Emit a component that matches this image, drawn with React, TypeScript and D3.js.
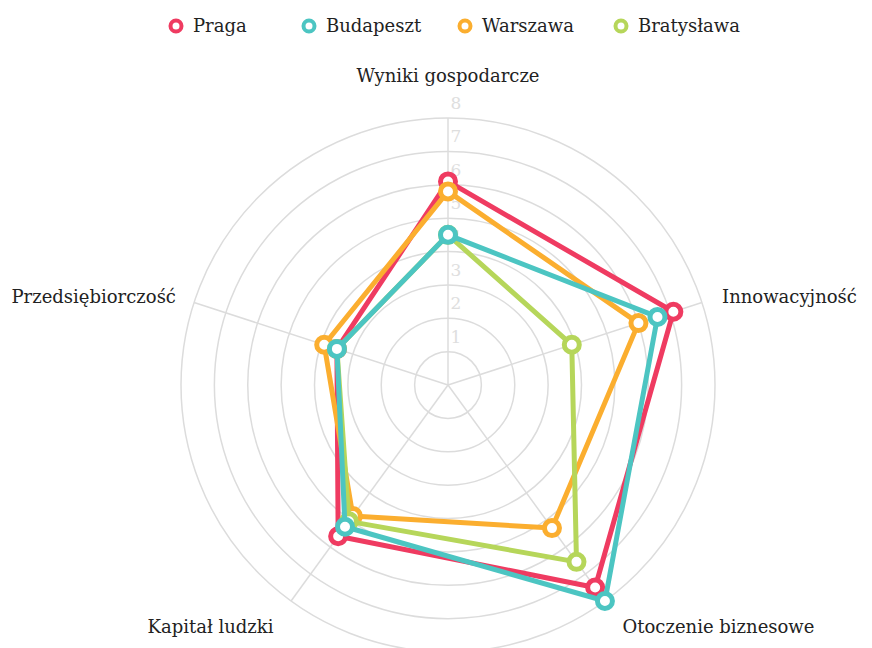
import * as d3 from "d3";

const axes = ["Wyniki gospodarcze", "Innowacyjność", "Otoczenie biznesowe", "Kapitał ludzki", "Przedsiębiorczość"];
const seriesNames = ["Praga", "Budapeszt", "Warszawa", "Bratysława"];
const seriesColors = ["#ef3b61", "#4cc5c2", "#fbae2f", "#b6d65a"];
const praga = [6.1, 7.1, 7.5, 5.6, 3.5];
const budapeszt = [4.5, 6.6, 8.0, 5.25, 3.5];
const warszawa = [5.8, 6.0, 5.3, 4.85, 3.9];
const bratyslawa = [4.5, 3.9, 6.55, 5.05, 3.5];
const ticks = [1, 2, 3, 4, 5, 6, 7, 8];

const width = 872;
const height = 648;
const cx = 448;
const cy = 385;
const font = "'DejaVu Serif', serif";

export default function App() {
  const r = d3.scaleLinear().domain([0, 8]).range([0, 267]);
  const angle = d3.scaleLinear().domain([0, axes.length]).range([0, 2 * Math.PI]);
  const values = [praga, budapeszt, warszawa, bratyslawa];
  // draw order: bottom -> top
  const order = [0, 2, 3, 1];

  const line = d3
    .lineRadial<number>()
    .angle((_, i) => angle(i))
    .radius((d) => r(d))
    .curve(d3.curveLinearClosed);

  const pt = (i: number, v: number): [number, number] => {
    const a = angle(i);
    return [Math.sin(a) * r(v), -Math.cos(a) * r(v)];
  };

  const labelPos = (i: number) => {
    const a = angle(i);
    const R = r(8) + 18;
    const x = Math.sin(a) * R;
    const y = -Math.cos(a) * R;
    if (i === 0) return { x, y: y - 18, anchor: "middle" };
    if (i === 1) return { x: x + 3, y: y + 6, anchor: "start" };
    if (i === 2) return { x: x + 7, y: y + 17, anchor: "start" };
    if (i === 3) return { x: x - 7, y: y + 17, anchor: "end" };
    return { x: x - 1, y: y + 6, anchor: "end" };
  };

  const legendX = [176, 309, 465, 621];

  return (
    <svg width={width} height={height} style={{ position: "absolute", left: 0, top: 0, background: "#fff" }}>
      <g>
        {seriesNames.map((name, i) => (
          <g key={name} transform={`translate(${legendX[i]},26)`}>
            <circle r={5.5} fill="#fff" stroke={seriesColors[i]} strokeWidth={4} />
            <text x={17} y={6} fontFamily={font} fontSize={18} fill="#222">
              {name}
            </text>
          </g>
        ))}
      </g>
      <g transform={`translate(${cx},${cy})`}>
        {ticks.map((t) => (
          <circle key={t} r={r(t)} fill="none" stroke="#dcdcdc" strokeWidth={1.5} />
        ))}
        {axes.map((a, i) => {
          const [x, y] = pt(i, 8);
          return <line key={a} x1={0} y1={0} x2={x} y2={y} stroke="#dcdcdc" strokeWidth={1.5} />;
        })}
        {ticks.map((t) => (
          <text
            key={t}
            x={8}
            y={-r(t) - 9}
            textAnchor="middle"
            fontFamily={font}
            fontSize={17}
            fill="#dedede"
          >
            {t}
          </text>
        ))}
        {axes.map((a, i) => {
          const p = labelPos(i);
          return (
            <text key={a} x={p.x} y={p.y} textAnchor={p.anchor} fontFamily={font} fontSize={18} fill="#222">
              {a}
            </text>
          );
        })}
        {order.map((s) => (
          <g key={seriesNames[s]}>
            <path d={line(values[s]) || ""} fill="none" stroke={seriesColors[s]} strokeWidth={5} strokeLinejoin="round" />
            {values[s].map((v, i) => {
              const [x, y] = pt(i, v);
              return <circle key={i} cx={x} cy={y} r={7.5} fill="#fff" stroke={seriesColors[s]} strokeWidth={5} />;
            })}
          </g>
        ))}
      </g>
    </svg>
  );
}
